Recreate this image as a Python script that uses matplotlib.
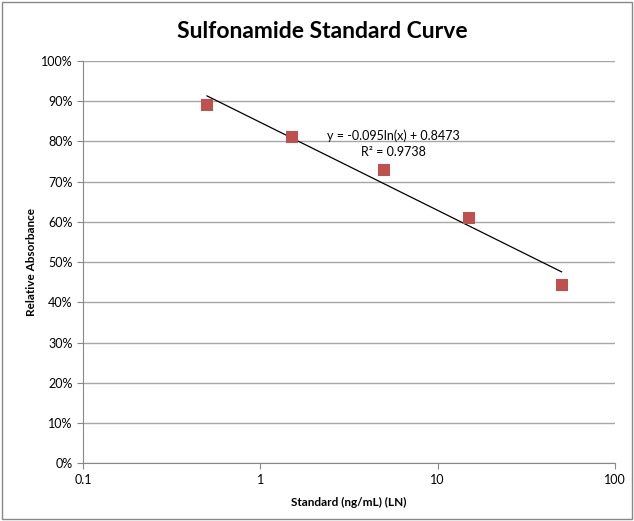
import numpy as np
import matplotlib.pyplot as plt
from matplotlib.ticker import PercentFormatter, FixedLocator, FixedFormatter, NullLocator

plt.rcParams['font.family'] = ['Lato', 'DejaVu Sans']

# data
standard = [0.5, 1.5, 5, 15, 50]
absorbance = [0.89, 0.81, 0.73, 0.61, 0.443]
fit_a = -0.095
fit_b = 0.8473
r2 = 0.9738

fig = plt.figure(figsize=(6.34, 5.21), dpi=100)
ax = fig.add_axes([0.131, 0.111, 0.839, 0.772])

# border around the chart
fig.patches.append(plt.Rectangle((0.003, 0.003), 0.994, 0.994, transform=fig.transFigure,
                                 fill=False, edgecolor='#888888', linewidth=1))

# trendline
xs = np.logspace(np.log10(min(standard)), np.log10(max(standard)), 100)
ax.plot(xs, fit_a * np.log(xs) + fit_b, color='black', linewidth=0.9, zorder=3)

ax.scatter(standard, absorbance, marker='s', s=70, color='#C0504D', zorder=4, linewidths=0)

ax.set_xscale('log')
ax.set_xlim(0.1, 100)
ax.set_ylim(0, 1)
ax.xaxis.set_major_locator(FixedLocator([0.1, 1, 10, 100]))
ax.xaxis.set_major_formatter(FixedFormatter(['0.1', '1', '10', '100']))
ax.xaxis.set_minor_locator(NullLocator())
ax.set_yticks(np.arange(0, 1.01, 0.1))
ax.yaxis.set_major_formatter(PercentFormatter(1.0, decimals=0))

ax.grid(axis='y', color='#A6A6A6', linewidth=1)
ax.set_axisbelow(True)
for s in ['top', 'right']:
    ax.spines[s].set_visible(False)
for s in ['left', 'bottom']:
    ax.spines[s].set_color('#888888')
ax.tick_params(axis='both', colors='#888888', labelcolor='black', labelsize=9, length=4)

fig.text(0.508, 0.94, 'Sulfonamide Standard Curve', fontsize=16.5, fontweight='bold',
         ha='center', va='center')
ax.set_xlabel('Standard (ng/mL) (LN)', fontsize=8.5, fontweight='bold', labelpad=8)
ax.set_ylabel('Relative Absorbance', fontsize=8.5, fontweight='bold', labelpad=3)

ax.text(5.6, 0.815, 'y = -0.095ln(x) + 0.8473', fontsize=9, ha='center', va='center')
ax.text(5.6, 0.774, 'R² = 0.9738', fontsize=9, ha='center', va='center')

fig.savefig('out.png', dpi=100)
